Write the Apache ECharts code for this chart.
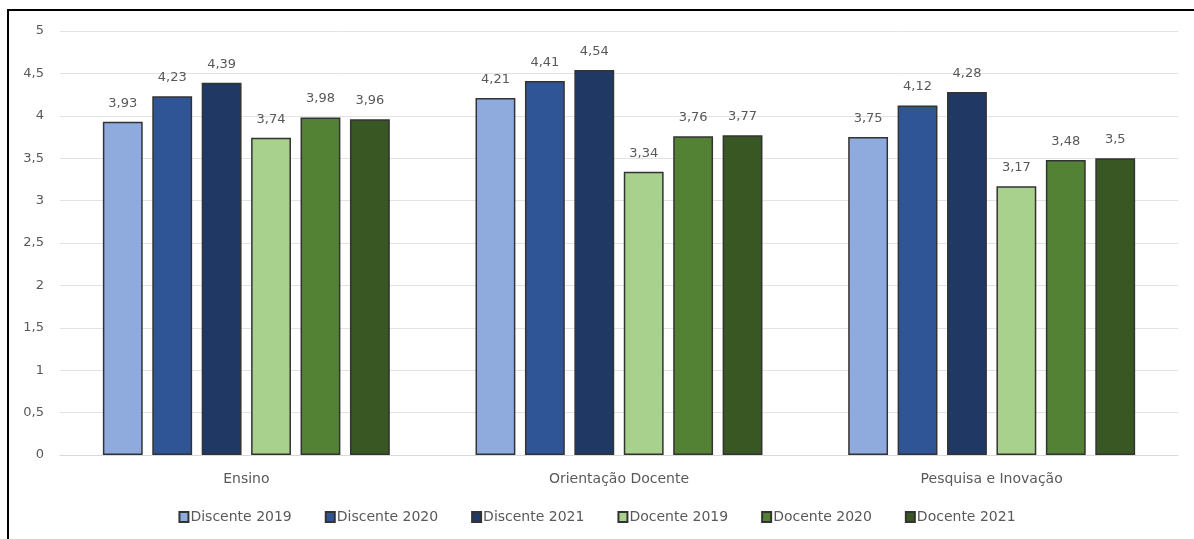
<!DOCTYPE html>
<html>
<head>
<meta charset="utf-8">
<script src="https://cdn.jsdelivr.net/npm/echarts@6/dist/echarts.min.js"></script>
<style>
  html, body { margin: 0; padding: 0; background: #fff; }
  #chart { width: 1194px; height: 539px; }
  #frame {
    position: absolute; left: 7px; top: 9px; width: 1200px; height: 540px;
    border-top: 2px solid #000; border-left: 2px solid #000; pointer-events: none;
  }
</style>
</head>
<body>
<div id="chart"></div>
<div id="frame"></div>
<script>
// ── Data ─────────────────────────────────────────────────────
const categories = ['Ensino', 'Orientação Docente', 'Pesquisa e Inovação'];
const seriesNames = ['Discente 2019', 'Discente 2020', 'Discente 2021', 'Docente 2019', 'Docente 2020', 'Docente 2021'];
const discente2019 = [3.93, 4.21, 3.75];
const discente2020 = [4.23, 4.41, 4.12];
const discente2021 = [4.39, 4.54, 4.28];
const docente2019  = [3.74, 3.34, 3.17];
const docente2020  = [3.98, 3.76, 3.48];
const docente2021  = [3.96, 3.77, 3.50];
const yTicks = [0, 0.5, 1, 1.5, 2, 2.5, 3, 3.5, 4, 4.5, 5];

const seriesValues = [discente2019, discente2020, discente2021, docente2019, docente2020, docente2021];
const colors = ['#8faadc', '#2f5597', '#1f3864', '#a9d18e', '#548235', '#385723'];

// ── Styles ───────────────────────────────────────────────────
const FONT = 'DejaVu Sans';
const TXT = '#595959';
const fmt = v => String(v).replace('.', ',');

const chart = echarts.init(document.getElementById('chart'), null, { renderer: 'canvas' });

chart.setOption({
  animation: false,
  backgroundColor: '#fff',
  textStyle: { fontFamily: FONT },
  grid: { left: 60, right: 16, top: 31, bottom: 84, containLabel: false },
  legend: {
    data: seriesNames,
    bottom: 10,
    left: 'center',
    itemWidth: 9,
    itemHeight: 10,
    itemGap: 33,
    icon: 'rect',
    textStyle: { color: TXT, fontSize: 14, fontFamily: FONT, padding: [0, 0, 0, -3] },
  },
  xAxis: {
    type: 'category',
    data: categories,
    axisLine: { show: true, lineStyle: { color: '#d9d9d9' } },
    axisTick: { show: false },
    axisLabel: { color: TXT, fontSize: 14, margin: 17, fontFamily: FONT },
  },
  yAxis: {
    type: 'value',
    min: 0,
    max: 5,
    interval: 0.5,
    axisLine: { show: false },
    axisTick: { show: false },
    splitLine: { lineStyle: { color: '#e3e3e3', width: 1 } },
    axisLabel: {
      color: TXT, fontSize: 13, margin: 16, fontFamily: FONT,
      formatter: v => yTicks.includes(v) ? fmt(v) : '',
    },
  },
  series: seriesNames.map((name, i) => ({
    name,
    type: 'bar',
    data: seriesValues[i],
    barGap: '24%',
    barCategoryGap: '23%',
    itemStyle: { color: colors[i], borderColor: '#333', borderWidth: 1.5 },
    label: {
      show: true,
      position: 'top',
      distance: 12,
      color: TXT,
      fontSize: 13,
      fontFamily: FONT,
      formatter: p => fmt(p.value),
    },
  })),
});
</script>
</body>
</html>
